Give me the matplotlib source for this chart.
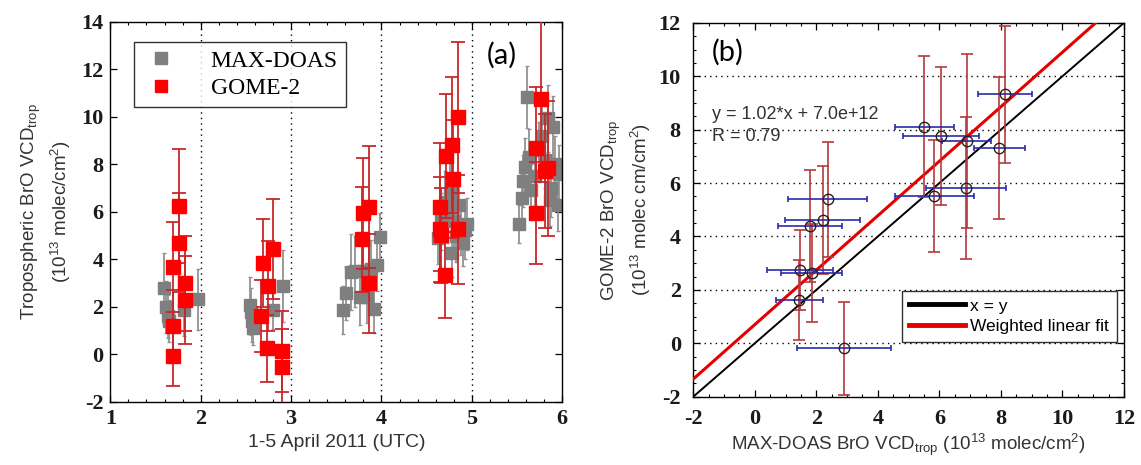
import matplotlib
matplotlib.use("Agg")
import matplotlib.pyplot as plt
from matplotlib.lines import Line2D
from matplotlib.ticker import MultipleLocator
import numpy as np

# ---------------- Panel (a) data ----------------
maxdoas_x = [1.59, 1.62, 1.64, 1.65, 1.81, 1.97,
             2.55, 2.56, 2.57, 2.58, 2.80, 2.91,
             3.58, 3.61, 3.66, 3.71, 3.76, 3.80, 3.84, 3.88, 3.92, 3.95, 3.98,
             4.63, 4.66, 4.70, 4.73, 4.76, 4.78, 4.80, 4.83, 4.86, 4.88, 4.90, 4.92, 4.95,
             5.52, 5.55, 5.57, 5.59, 5.61, 5.63, 5.66, 5.70, 5.74, 5.78, 5.81, 5.84, 5.86,
             5.88, 5.90, 5.92, 5.95, 5.97]
maxdoas_y = [2.77, 2.00, 1.60, 1.40, 1.86, 2.31,
             2.07, 1.79, 1.40, 1.09, 1.86, 2.87,
             1.86, 2.56, 3.45, 3.50, 2.42, 3.50, 2.40, 3.60, 1.90, 3.76, 4.95,
             4.90, 5.60, 6.40, 5.90, 6.80, 4.25, 5.60, 5.00, 6.30, 5.30, 4.70, 5.23, 5.50,
             5.50, 6.60, 7.30, 7.90, 10.84, 8.30, 6.90, 7.50, 8.60, 9.20, 8.20, 9.93, 6.50,
             7.00, 9.58, 8.00, 6.30, 7.60]
maxdoas_err = [1.5, 1.1, 0.9, 0.9, 1.1, 1.3,
               1.2, 1.0, 0.9, 0.7, 0.8, 1.5,
               1.0, 1.1, 1.6, 1.5, 1.2, 1.3, 1.1, 1.2, 1.0, 1.1, 1.0,
               1.1, 1.2, 1.3, 1.2, 1.4, 1.0, 1.2, 1.1, 1.3, 1.1, 1.0, 1.2, 1.1,
               0.8, 1.0, 1.1, 1.2, 1.3, 1.2, 1.1, 1.2, 1.2, 1.3, 1.2, 1.4, 1.1,
               1.2, 1.3, 1.2, 1.1, 1.2]

gome_x = [1.69, 1.69, 1.69, 1.76, 1.76, 1.83, 1.83,
          2.67, 2.69, 2.73, 2.75, 2.80, 2.90, 2.90,
          3.79, 3.80, 3.86, 3.86,
          4.65, 4.65, 4.66, 4.70, 4.71, 4.78, 4.79, 4.85, 4.85,
          5.71, 5.71, 5.77, 5.81, 5.84]
gome_y = [-0.08, 1.19, 3.66, 4.70, 6.24, 2.98, 2.28,
          1.61, 3.85, 0.25, 2.87, 4.42, 0.13, -0.53,
          4.84, 5.93, 6.21, 2.98,
          6.19, 5.26, 5.02, 3.33, 8.35, 8.81, 7.38, 9.97, 5.26,
          8.67, 5.93, 10.77, 7.70, 7.83]
gome_err = [1.26, 1.5, 1.9, 2.1, 2.4, 2.0, 1.85,
            1.5, 1.85, 1.4, 1.9, 2.1, 1.7, 1.6,
            2.2, 2.35, 2.57, 2.1,
            2.7, 2.2, 2.0, 1.8, 2.6, 2.85, 2.5, 3.2, 2.3,
            2.6, 2.15, 3.5, 2.4, 2.85]

day_lines = [2, 3, 4, 5]
xticks_a = [1, 2, 3, 4, 5, 6]
yticks_a = [-2, 0, 2, 4, 6, 8, 10, 12, 14]

# ---------------- Panel (b) data ----------------
sc_x = [8.13, 5.51, 6.05, 6.89, 7.94, 2.37, 6.87, 5.83, 2.21, 1.79, 1.47, 1.85, 1.45, 2.90]
sc_y = [9.32, 8.11, 7.77, 7.58, 7.32, 5.39, 5.80, 5.51, 4.62, 4.40, 2.74, 2.64, 1.62, -0.19]
sc_xerr = [0.87, 0.95, 1.23, 0.80, 0.83, 1.28, 1.29, 1.28, 1.22, 1.03, 1.06, 1.00, 0.76, 1.52]
sc_yerr = [2.56, 2.64, 2.58, 3.25, 2.65, 2.16, 2.66, 2.10, 2.03, 2.10, 1.50, 1.83, 1.50, 1.75]
fit_slope = 1.02
fit_intercept = 0.70   # 7.0e+12 in units of 1e13
fit_r = 0.79
grid_y = [0, 2, 4, 6, 8, 10]
ticks_b = [-2, 0, 2, 4, 6, 8, 10, 12]

SERIF = ["Liberation Serif", "DejaVu Serif"]
SANS = ["Liberation Sans", "DejaVu Sans"]

plt.rcParams["font.family"] = SERIF
plt.rcParams["mathtext.fontset"] = "custom"
plt.rcParams["mathtext.rm"] = "Liberation Sans"
plt.rcParams["mathtext.it"] = "Liberation Sans:italic"
plt.rcParams["axes.unicode_minus"] = False

fig = plt.figure(figsize=(11.41, 4.65), dpi=100)
axa = fig.add_axes([0.0967, 0.1361, 0.396, 0.817])
axb = fig.add_axes([0.6076, 0.1469, 0.3775, 0.804])

TICKFONT = dict(fontfamily="Liberation Serif", fontsize=16, fontweight="bold", color="#1a1a1a")

def style_axes(ax, xt, yt, pad):
    ax.set_xticks(xt, [str(v) for v in xt], **TICKFONT)
    ax.set_yticks(yt, [str(v) for v in yt], **TICKFONT)
    ax.tick_params(which="both", direction="in", top=True, right=True)
    ax.tick_params(which="major", length=5, width=0.9, pad=pad)
    ax.tick_params(which="minor", length=2.5, width=0.8)
    for s in ax.spines.values():
        s.set_linewidth(1.0)

# ---- Panel (a)
for xv in day_lines:
    axa.axvline(xv, color="black", ls=(0, (1, 3)), lw=1.0, zorder=1)
axa.errorbar(maxdoas_x, maxdoas_y, yerr=maxdoas_err, fmt="s", color="#7f7f7f",
             ecolor="#929292", elinewidth=1.3, capsize=1.5, markersize=8.5, zorder=2)
axa.errorbar(gome_x, gome_y, yerr=gome_err, fmt="s", color="#ff0000",
             ecolor="#c8282a", elinewidth=1.3, capsize=5, capthick=1.3,
             markersize=10, zorder=3)
axa.set_xlim(1, 6)
axa.set_ylim(-2, 14)
style_axes(axa, xticks_a, yticks_a, 5)
axa.xaxis.set_minor_locator(MultipleLocator(0.2))
axa.set_xlabel("1-5 April 2011 (UTC)", family=SANS, fontsize=14, color="#333333", labelpad=4)
axa.set_ylabel("Tropospheric BrO VCD$_{\\mathrm{trop}}$\n(10$^{13}$ molec/cm$^{2}$)",
               family=SANS, fontsize=13.5, color="#333333", labelpad=6, linespacing=1.3)
axa.text(5.17, 12.6, "(a)", family=["Lato", "DejaVu Sans"], fontsize=21, va="center", ha="left")
handles_a = [Line2D([], [], marker="s", ls="none", color="#7f7f7f", markersize=9),
             Line2D([], [], marker="s", ls="none", color="#ff0000", markersize=9)]
leg = axa.legend(handles_a, ["MAX-DOAS", "GOME-2"], loc="upper left",
                 bbox_to_anchor=(0.052, 0.947), borderaxespad=0,
                 prop={"family": SERIF, "size": 17}, frameon=True, fancybox=False,
                 edgecolor="black", handlelength=1.6, handletextpad=1.3,
                 labelspacing=0.25, borderpad=0.35)
leg.get_frame().set_linewidth(1.0)

# ---- Panel (b)
for gy in grid_y:
    axb.axhline(gy, color="black", ls=(0, (1, 3)), lw=1.0, zorder=1)
xx = np.array([-2, 12])
l1, = axb.plot(xx, xx, color="black", lw=1.4, zorder=2)
l2, = axb.plot(xx, fit_slope * xx + fit_intercept, color="#e50000", lw=2.2, zorder=3)
axb.errorbar(sc_x, sc_y, yerr=sc_yerr, fmt="none", ecolor="#b5393b",
             elinewidth=1.2, capsize=4.5, capthick=1.2, zorder=4)
axb.errorbar(sc_x, sc_y, xerr=sc_xerr, fmt="none", ecolor="#2b2ba8",
             elinewidth=1.2, capsize=2.5, capthick=1.2, zorder=4)
axb.plot(sc_x, sc_y, "o", mfc="none", mec="#222222", markersize=7.5, mew=1.0, zorder=5)
axb.set_xlim(-2, 12)
axb.set_ylim(-2, 12)
style_axes(axb, ticks_b, ticks_b, 9)
axb.xaxis.set_minor_locator(MultipleLocator(0.5))
axb.yaxis.set_minor_locator(MultipleLocator(0.5))
axb.set_xlabel("MAX-DOAS BrO VCD$_{\\mathrm{trop}}$ (10$^{13}$ molec/cm$^{2}$)",
               family=SANS, fontsize=13.5, color="#333333", labelpad=2)
axb.set_ylabel("GOME-2 BrO VCD$_{\\mathrm{trop}}$\n(10$^{13}$ molec cm/cm$^{2}$)",
               family=SANS, fontsize=13.5, color="#333333", labelpad=4, linespacing=1.3)
axb.text(-1.4, 8.58, f"y = {fit_slope:.2f}*x + {fit_intercept*1e13:.1e}",
         family=SANS, fontsize=13, color="#333333", va="center", ha="left")
axb.text(-1.4, 7.76, f"R = {fit_r:.2f}", family=SANS, fontsize=13, color="#333333",
         va="center", ha="left")
axb.text(-1.4, 10.9, "(b)", family=["Lato", "DejaVu Sans"], fontsize=21, va="center", ha="left")
legb = axb.legend([l1, l2], ["x = y", "Weighted linear fit"], loc="lower right",
                  bbox_to_anchor=(0.983, 0.147), borderaxespad=0,
                  prop={"family": SANS, "size": 12.5}, frameon=True, fancybox=False,
                  edgecolor="black", handlelength=3.2, handletextpad=0.3,
                  labelspacing=0.3, borderpad=0.45)
legb.get_frame().set_linewidth(1.0)
for ln in legb.get_lines():
    ln.set_linewidth(3.5)

fig.savefig("out.png", dpi=100)
